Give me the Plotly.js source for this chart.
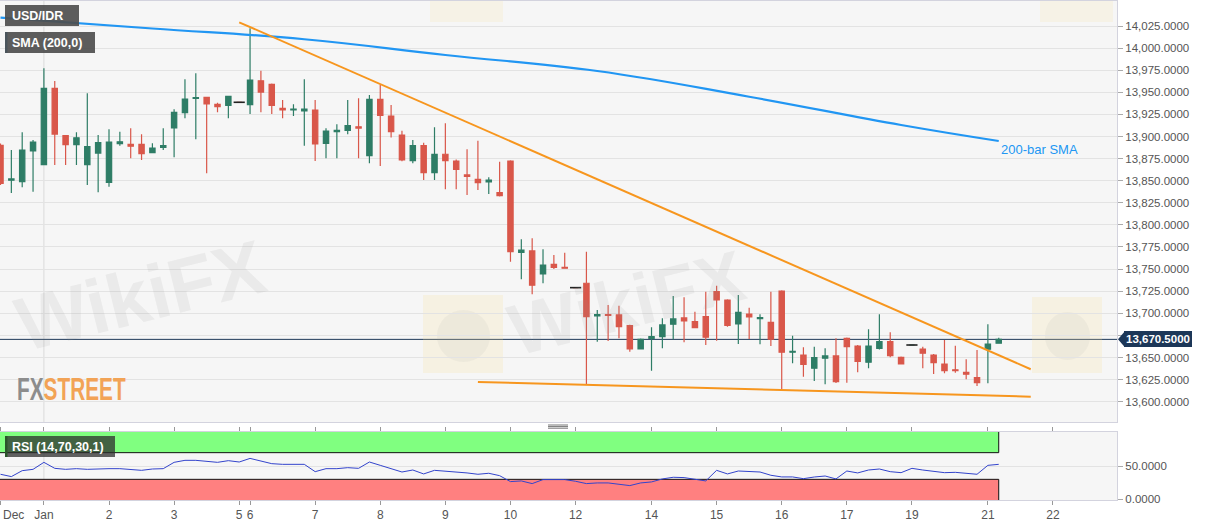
<!DOCTYPE html>
<html>
<head>
<meta charset="utf-8">
<script src="https://cdn.plot.ly/plotly-3.0.1.min.js"></script>
<style>
html,body{margin:0;padding:0;background:#ffffff;}
#chart{width:1207px;height:526px;}
</style>
</head>
<body>
<div id="chart"></div>
<script>
// ---------------- DATA (USD/IDR, 4-hour candles) ----------------
const open = [
  13890, 13850.5, 13848.9, 13883.6, 13868.1, 13954.5, 13900.9, 13890.7, 13868.1, 13881.3,
  13848.2, 13892, 13891, 13891.2, 13881.7, 13887.8, 13909.6, 13926.9, 13943, 13944.3,
  13936.4, 13935.3, 13938.7, 13936, 13963.1, 13959, 13931.9, 13930, 13929, 13930,
  13892.3, 13905.5, 13907, 13911, 13878.3, 13942.1, 13923.2, 13901.7, 13872.6, 13889.6,
  13859.1, 13879.9, 13872.3, 13856.5, 13851.6, 13848.5, 13836.4, 13872.3, 13769, 13770.5,
  13744.5, 13755.4, 13752, 13729, 13734, 13697, 13698.5, 13698.1, 13686, 13659.6,
  13671.7, 13673.5, 13687.6, 13694.7, 13690.5, 13696.2, 13724.4, 13715, 13687.9, 13699.2,
  13694, 13689.8, 13725.2, 13656, 13652.8, 13637.8, 13649.1, 13651.7, 13671.7, 13663,
  13644.6, 13660.4, 13667.9, 13650.2, 13664.1, 13659.6, 13652.8, 13642.6, 13636, 13633.3,
  13627.2, 13659.3, 13666.1
];
const high = [
  13892, 13884.7, 13904.8, 13896, 13977.2, 13962.8, 13901, 13904.8, 13948.9, 13901.7,
  13908.2, 13905.4, 13909.3, 13902.5, 13892.3, 13909.3, 13930.8, 13964.7, 13971.5, 13945,
  13938.2, 13946, 13938.7, 14022.4, 13974.4, 13960, 13941.3, 13936.4, 13964.7, 13941.3,
  13909.3, 13913.8, 13941.3, 13943.2, 13946.9, 13958.3, 13935.6, 13906.6, 13896, 13893,
  13910.4, 13914.9, 13874, 13885.5, 13895.3, 13853.8, 13871.5, 13873, 13783.7, 13784.8,
  13772.4, 13766, 13768.6, 13729, 13769.7, 13703.7, 13709.4, 13708.6, 13687, 13671.5,
  13684.2, 13694.4, 13719.6, 13718.1, 13701.8, 13724.4, 13731.2, 13716, 13720.7, 13706.3,
  13698.9, 13724.4, 13726, 13674.7, 13661.5, 13662.2, 13660.4, 13671.7, 13672.5, 13664,
  13681.9, 13698.9, 13678.5, 13651, 13664.1, 13662.2, 13654, 13669.8, 13663.4, 13648,
  13658.5, 13687.6, 13672.4
];
const low = [
  13845, 13836.1, 13842.5, 13837.6, 13868, 13867.8, 13867.8, 13867.8, 13845.1, 13836.9,
  13843.2, 13889.6, 13875.3, 13873.4, 13881.7, 13884.7, 13876.5, 13920.6, 13896.8, 13858.4,
  13927.4, 13920.6, 13938.7, 13925.5, 13927.4, 13925.5, 13920.6, 13923.2, 13889.6, 13872.3,
  13875.3, 13875.3, 13902.5, 13875.3, 13869.7, 13866.6, 13899, 13872, 13869.7, 13850.8,
  13850.8, 13840.3, 13840.3, 13833.8, 13839.5, 13835, 13832, 13758.4, 13738.5, 13721.5,
  13734, 13750, 13750.5, 13729, 13619.7, 13667.9, 13668.7, 13671.7, 13656.6, 13659,
  13635.1, 13660.4, 13670.6, 13667.2, 13683, 13664.1, 13669, 13684.8, 13665.3, 13670.9,
  13665, 13663, 13614, 13643.4, 13628.3, 13623.4, 13619.7, 13621, 13621.5, 13633.3,
  13637.8, 13659, 13650.2, 13642, 13664.1, 13637.8, 13631.3, 13632.1, 13632.8, 13625.3,
  13617.8, 13620.8, 13666
];
const close = [
  13847, 13852, 13884.7, 13893.8, 13954.5, 13902.8, 13890.7, 13898.6, 13888.5, 13893,
  13893.8, 13894, 13889, 13880.5, 13887, 13889.6, 13927.4, 13942.4, 13944, 13936.8,
  13933.7, 13945.5, 13938.7, 13963.9, 13950.3, 13935.3, 13930, 13931, 13931, 13891.5,
  13906.2, 13907, 13912.2, 13909.5, 13942.1, 13924, 13905.4, 13873.4, 13889.6, 13859.1,
  13879.9, 13872.6, 13862.9, 13855, 13847.7, 13850.8, 13833, 13769.7, 13771.6, 13731.7,
  13754.6, 13752, 13751, 13729, 13696.2, 13698.5, 13697.5, 13684.8, 13659.6, 13670.6,
  13673.5, 13686.8, 13693.6, 13691.3, 13683.7, 13672.9, 13715, 13686.4, 13701.1, 13695.8,
  13695, 13670.6, 13655.9, 13657, 13642.3, 13649.8, 13651.7, 13622.6, 13662.2, 13645.7,
  13663, 13667.9, 13652, 13642.6, 13664.1, 13654.8, 13644.1, 13635.1, 13635, 13631,
  13621.5, 13665, 13670.5
];
const rsi = [
  37.6, 34.1, 43.0, 45.0, 55.5, 46.5, 45.0, 46.0, 45.0, 46.0,
  46.0, 46.0, 45.0, 43.5, 45.5, 46.0, 55.5, 58.5, 58.5, 57.0,
  55.5, 58.0, 56.0, 61.4, 58.0, 53.5, 52.5, 52.5, 52.5, 41.5,
  46.0, 46.0, 47.5, 46.5, 56.0, 51.0, 46.5, 41.0, 44.0, 38.1,
  43.5, 42.5, 41.0, 39.6, 37.6, 39.1, 35.5, 26.6, 27.6, 23.6,
  29.6, 29.6, 29.6, 27.1, 23.6, 24.6, 24.6, 22.6, 20.6, 24.6,
  26.1, 30.6, 33.1, 32.6, 30.6, 27.6, 43.5, 38.1, 42.5, 41.5,
  41.0, 36.1, 33.6, 33.6, 31.0, 33.5, 35.0, 30.6, 42.5, 39.6,
  44.0, 45.5, 41.5, 40.0, 46.5, 44.0, 42.0, 40.0, 40.5, 39.1,
  37.6, 51.0, 52.5
];
// 200-bar SMA, read at sampled bars
const smaIndex = [0, 14, 28, 41, 55, 69, 83, 92];
const smaValue = [14034.4, 14022.2, 14010.0, 13992.2, 13974.1, 13945.0, 13913.0, 13894.9];
// Trend lines (bar index, price)
const upperTrendX = [22, 94.95];
const upperTrendY = [14029.2, 13636.7];
const lowerTrendX = [44, 94.95];
const lowerTrendY = [13622.3, 13605.7];
// Axis ticks
const dayTickIndex = [4, 10, 16, 22, 23, 29, 35, 41, 47, 53, 60, 66, 72, 78, 84, 91, 97];
const dayTickText  = ['Jan', '2', '3', '5', '6', '7', '8', '9', '10', '12', '14', '15', '16', '17', '19', '21', '22'];
const decTickIndex = 0;
const decTickText = 'Dec';
const priceTicks = [13600, 13625, 13650, 13675, 13700, 13725, 13750, 13775, 13800, 13825,
                    13850, 13875, 13900, 13925, 13950, 13975, 14000, 14025];
const rsiTicks = [0, 50];
const RSI_UPPER = 70, RSI_LOWER = 30;

// ---------------- DERIVED ----------------
const idx = open.map((_, i) => i);
const lastI = idx.length - 1;
const lastClose = close[lastI];
const flatIdx = idx.filter(i => open[i] === close[i] && high[i] === low[i]);
const janIndex = dayTickIndex[dayTickText.indexOf('Jan')];

// plot-area pixel helpers (for decorations only)
const PW = 1117, PH = 499;
const PX = x => x / PW;
const PY = y => 1 - (y - 1) / PH;

const GREEN = '#2e7d66', RED = '#d9574a', BLUE = '#2196f3', ORANGE = '#f7961e', NAVY = '#1c3758';
const X_RANGE = [-0.046, 102.9];
const Y2_RANGE = [-1, 101];

const fmt4 = v => v.toLocaleString('en-US', {minimumFractionDigits:4, maximumFractionDigits:4});
// the last-price tag covers the nearest price label
const priceTickText = priceTicks.map(v => Math.abs(v - lastClose) < 10 ? '' : fmt4(v));

const traces = [
  {type:'scatter', x:smaIndex, y:smaValue, mode:'lines', line:{color:BLUE, width:2.2, shape:'spline', smoothing:1.2}, hoverinfo:'skip', xaxis:'x', yaxis:'y'},
  {type:'scatter', x:upperTrendX, y:upperTrendY, mode:'lines', line:{color:ORANGE, width:2}, hoverinfo:'skip', xaxis:'x', yaxis:'y'},
  {type:'scatter', x:lowerTrendX, y:lowerTrendY, mode:'lines', line:{color:ORANGE, width:2}, hoverinfo:'skip', xaxis:'x', yaxis:'y'},
  {type:'candlestick', x:idx, open:open, high:high, low:low, close:close,
   increasing:{line:{color:GREEN, width:1.2}, fillcolor:GREEN},
   decreasing:{line:{color:RED, width:1.2}, fillcolor:RED},
   whiskerwidth:0, hoverinfo:'skip', xaxis:'x', yaxis:'y'},
  {type:'scatter', x:flatIdx, y:flatIdx.map(i => close[i]), mode:'markers',
   marker:{symbol:'line-ew', size:8, color:'#222', line:{color:'#222', width:1.6}}, hoverinfo:'skip', xaxis:'x', yaxis:'y'},
  {type:'scatter', x:idx, y:rsi, mode:'lines', line:{color:'#3344cc', width:1}, hoverinfo:'skip', xaxis:'x', yaxis:'y2'}
];

const WM = 'rgba(150,150,150,0.12)';
const shapes = [
  // month boundary line
  {type:'line', xref:'x', yref:'y domain', x0:janIndex, x1:janIndex, y0:0, y1:1, line:{color:'#dadada', width:1}, layer:'below'},
  {type:'line', xref:'x', yref:'y2 domain', x0:janIndex, x1:janIndex, y0:0, y1:1, line:{color:'#dadada', width:1}, layer:'below'},
  // RSI overbought / oversold zones
  {type:'rect', xref:'x', yref:'y2', x0:X_RANGE[0], x1:lastI, y0:RSI_UPPER, y1:Y2_RANGE[1], fillcolor:'#80ff80', line:{width:0}, layer:'below'},
  {type:'rect', xref:'x', yref:'y2', x0:X_RANGE[0], x1:lastI, y0:Y2_RANGE[0], y1:RSI_LOWER, fillcolor:'#ff8080', line:{width:0}, layer:'below'},
  {type:'line', xref:'x', yref:'y2', x0:X_RANGE[0], x1:lastI, y0:RSI_UPPER, y1:RSI_UPPER, line:{color:'#111', width:1}, layer:'below'},
  {type:'line', xref:'x', yref:'y2', x0:X_RANGE[0], x1:lastI, y0:RSI_LOWER, y1:RSI_LOWER, line:{color:'#111', width:1}, layer:'below'},
  {type:'line', xref:'x', yref:'y2', x0:lastI, x1:lastI, y0:RSI_UPPER, y1:Y2_RANGE[1], line:{color:'#111', width:1}, layer:'below'},
  {type:'line', xref:'x', yref:'y2', x0:lastI, x1:lastI, y0:Y2_RANGE[0], y1:RSI_LOWER, line:{color:'#111', width:1}, layer:'below'},
  // last price line
  {type:'line', xref:'paper', yref:'y', x0:0, x1:1, y0:lastClose, y1:lastClose, line:{color:NAVY, width:1}, layer:'below'},
  // last price tag pointer
  {type:'path', xref:'paper', yref:'y', xsizemode:'pixel', ysizemode:'pixel', xanchor:1, yanchor:lastClose,
   path:'M 1 0 L 7 7 L 7 -7 Z', fillcolor:NAVY, line:{width:0}},
  // pane divider handle
  {type:'line', xref:'paper', yref:'paper', x0:PX(548), x1:PX(568), y0:PY(425), y1:PY(425), line:{color:'#777', width:1}},
  {type:'line', xref:'paper', yref:'paper', x0:PX(548), x1:PX(568), y0:PY(426.6), y1:PY(426.6), line:{color:'#777', width:1}},
  {type:'line', xref:'paper', yref:'paper', x0:PX(548), x1:PX(568), y0:PY(428.2), y1:PY(428.2), line:{color:'#777', width:1}},
  // watermark logos
  {type:'rect', xref:'paper', yref:'paper', x0:PX(423), x1:PX(503), y0:PY(373), y1:PY(295), fillcolor:'rgba(250,226,150,0.2)', line:{width:0}, layer:'below'},
  {type:'circle', xref:'paper', yref:'paper', x0:PX(437), x1:PX(490), y0:PY(362), y1:PY(310), fillcolor:'rgba(150,150,150,0.09)', line:{width:0}, layer:'below'},
  {type:'rect', xref:'paper', yref:'paper', x0:PX(1032), x1:PX(1102), y0:PY(373), y1:PY(297), fillcolor:'rgba(250,226,150,0.2)', line:{width:0}, layer:'below'},
  {type:'circle', xref:'paper', yref:'paper', x0:PX(1045), x1:PX(1090), y0:PY(360), y1:PY(312), fillcolor:'rgba(150,150,150,0.09)', line:{width:0}, layer:'below'},
  {type:'rect', xref:'paper', yref:'paper', x0:PX(430), x1:PX(503), y0:PY(22), y1:PY(-10), fillcolor:'rgba(250,226,150,0.16)', line:{width:0}, layer:'below'},
  {type:'rect', xref:'paper', yref:'paper', x0:PX(1040), x1:PX(1113), y0:PY(22), y1:PY(-10), fillcolor:'rgba(250,226,150,0.16)', line:{width:0}, layer:'below'},
  // colored strips on the label boxes
  {type:'rect', xref:'paper', yref:'paper', x0:PX(5), x1:PX(7.5), y0:PY(53), y1:PY(32), fillcolor:BLUE, line:{width:0}},
  {type:'rect', xref:'paper', yref:'paper', x0:PX(5), x1:PX(7.5), y0:PY(457), y1:PY(436), fillcolor:'#22cc22', line:{width:0}}
];

const FONT = 'Liberation Sans, Arial, sans-serif';
const labelFont = {family:FONT, size:12.5, color:'#ffffff'};
const annotations = [
  {xref:'paper', yref:'paper', x:PX(5), y:PY(5), xanchor:'left', yanchor:'top', showarrow:false,
   text:'<b>\u00a0\u00a0USD/IDR</b>', align:'left', valign:'middle', width:74, height:21, borderpad:0, borderwidth:0,
   bgcolor:'rgba(78,78,78,0.92)', font:labelFont},
  {xref:'paper', yref:'paper', x:PX(5), y:PY(32), xanchor:'left', yanchor:'top', showarrow:false,
   text:'<b>\u00a0\u00a0SMA (200,0)</b>', align:'left', valign:'middle', width:90, height:21, borderpad:0, borderwidth:0,
   bgcolor:'rgba(78,78,78,0.92)', font:labelFont},
  {xref:'paper', yref:'paper', x:PX(5), y:PY(436), xanchor:'left', yanchor:'top', showarrow:false,
   text:'<b>\u00a0\u00a0RSI (14,70,30,1)</b>', align:'left', valign:'middle', width:110, height:21, borderpad:0, borderwidth:0,
   bgcolor:'rgba(45,45,45,0.75)', font:labelFont},
  {xref:'x', yref:'y', x:smaIndex[smaIndex.length-1], y:smaValue[smaValue.length-1], xanchor:'left', yanchor:'top', yshift:1, showarrow:false,
   text:'200-bar SMA', font:{family:FONT, size:13, color:BLUE}},
  {xref:'paper', yref:'y', x:1, y:lastClose, xanchor:'left', yanchor:'middle', xshift:7, showarrow:false,
   text:'<b>' + fmt4(lastClose) + '</b>', bgcolor:NAVY, borderpad:2, borderwidth:0,
   font:{family:FONT, size:11.5, color:'#ffffff'}},
  {xref:'x', yref:'paper', x:decTickIndex, y:0, xanchor:'left', yanchor:'top', yshift:-6, showarrow:false,
   text:decTickText, font:{family:FONT, size:12, color:'#555'}},
  {xref:'paper', yref:'paper', x:PX(15), y:PY(389), xanchor:'left', yanchor:'middle', showarrow:false,
   text:'<b><span style="color:#8d8d8d">FX</span><span style="color:#f2a356">STREET</span></b>',
   font:{family:FONT, size:32}},
  {xref:'paper', yref:'paper', x:PX(140), y:PY(295), xanchor:'center', yanchor:'middle', showarrow:false, textangle:-14,
   text:'<b>WikiFX</b>', font:{family:FONT, size:76, color:WM}},
  {xref:'paper', yref:'paper', x:PX(626), y:PY(303), xanchor:'center', yanchor:'middle', showarrow:false, textangle:-14,
   text:'<b>WikiFX</b>', font:{family:FONT, size:72, color:WM}}
];

const axisLine = '#d3d3de';
const layout = {
  width:1207, height:526,
  margin:{l:0, r:90, t:1, b:26, pad:0},
  paper_bgcolor:'#ffffff', plot_bgcolor:'#f6f6f6',
  showlegend:false, hovermode:false, dragmode:false,
  font:{family:FONT, size:12, color:'#555'},
  boxgap:0.3,
  xaxis:{domain:[0,1], anchor:'y2', range:X_RANGE, rangeslider:{visible:false}, showgrid:false, zeroline:false,
         tickmode:'array', tickvals:[decTickIndex].concat(dayTickIndex), ticktext:[''].concat(dayTickText),
         ticks:'outside', ticklen:4, tickcolor:'#999', showline:true, mirror:'all', linecolor:axisLine, linewidth:1,
         tickfont:{size:12, color:'#555'}},
  yaxis:{domain:[(500-422)/499, 1], anchor:'x', side:'right', range:[13577, 14053.3],
         tickmode:'array', tickvals:priceTicks, ticktext:priceTickText,
         gridcolor:'#e3e3e3', gridwidth:1, zeroline:false, showline:true, mirror:true, linecolor:axisLine,
         ticks:'outside', ticklen:5, tickcolor:'#aaa', tickfont:{size:11.5, color:'#555'}},
  yaxis2:{domain:[0, (500-432)/499], anchor:'x', side:'right', range:Y2_RANGE,
         tickmode:'array', tickvals:rsiTicks, tickformat:'.4f',
         gridcolor:'#e3e3e3', zeroline:false, showline:true, mirror:true, linecolor:axisLine,
         ticks:'outside', ticklen:5, tickcolor:'#aaa', tickfont:{size:11.5, color:'#555'}},
  shapes:shapes,
  annotations:annotations
};

Plotly.newPlot('chart', traces, layout, {displayModeBar:false, staticPlot:true}).then(gd => {
  // condensed look for the FXSTREET logo text
  gd.querySelectorAll('text.annotation-text').forEach(t => {
    if (t.textContent === 'FXSTREET') {
      const bb = t.getBBox();
      t.setAttribute('transform', 'translate(' + bb.x + ',0) scale(0.65,1) translate(' + (-bb.x) + ',0)');
    }
  });
});
</script>
</body>
</html>
